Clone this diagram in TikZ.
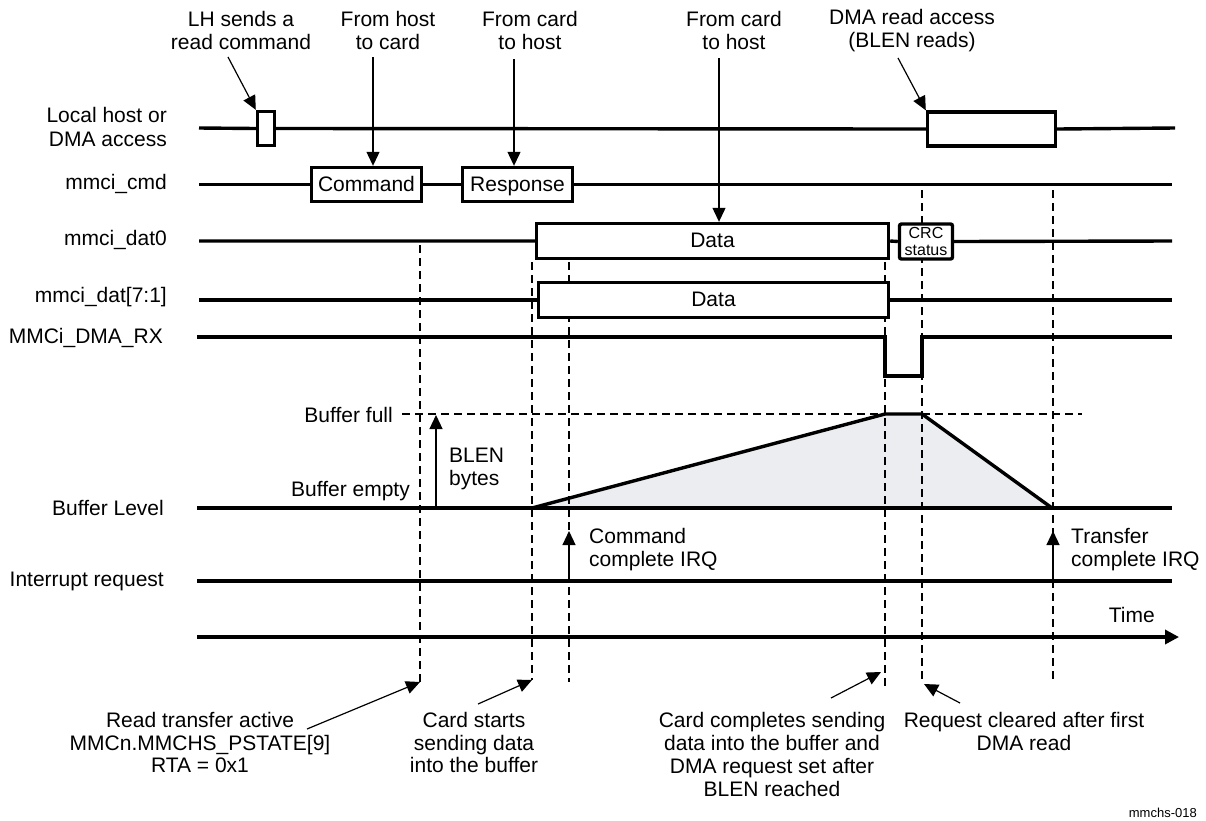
\documentclass[tikz,border=0pt]{standalone}
\usepackage{fontspec}
\setmainfont{Liberation Sans}
\usetikzlibrary{arrows.meta}
\definecolor{buf}{RGB}{236,237,240}
\begin{document}
\begin{tikzpicture}[x=1pt,y=-1pt,
  sig/.style={line width=3.4pt},
  sbox/.style={draw,line width=3.4pt,fill=white,inner sep=0pt,font=\fontsize{21}{23.5}\selectfont},
  tbox/.style={sbox,text height=15pt,text depth=1.5pt},
  lbl/.style={font=\fontsize{21}{23.5}\selectfont,align=center,inner sep=0pt},
  rlbl/.style={font=\fontsize{21}{23.5}\selectfont,align=right,inner sep=0pt,anchor=east},
  llbl/.style={font=\fontsize{21}{23}\selectfont,align=left,inner sep=0pt,anchor=west},
  ptr/.style={line width=1.2pt,-{Triangle[length=14pt,width=13pt]}},
  dsh/.style={line width=1.3pt,dash pattern=on 8pt off 5pt},
]
\useasboundingbox (0,0) rectangle (1206,820);

% buffer fill
\coordinate (b0) at (532,508);
\coordinate (b1) at (885,414);
\coordinate (b2) at (922,414);
\coordinate (b3) at (1052,508);
\fill[buf] (b0) -- (b1) -- (b2) -- (b3) -- cycle;

% dashed guide lines
\coordinate (d1t) at (420,245);  \coordinate (d1b) at (420,682);
\coordinate (d2t) at (532,262);  \coordinate (d2b) at (532,680);
\coordinate (d3t) at (569,262);  \coordinate (d3b) at (569,682);
\coordinate (d4t) at (885,262);  \coordinate (d4b) at (885,688);
\coordinate (d5t) at (922,190);  \coordinate (d5b) at (922,682);
\coordinate (d6t) at (1053,190); \coordinate (d6b) at (1053,683);
\coordinate (fl0) at (402,414);  \coordinate (fl1) at (1082,414);
\draw[dsh] (d1t) -- (d1b);
\draw[dsh] (d2t) -- (d2b);
\draw[dsh] (d3t) -- (d3b);
\draw[dsh] (d4t) -- (d4b);
\draw[dsh] (d5t) -- (d5b);
\draw[dsh] (d6t) -- (d6b);
\draw[dsh] (fl0) -- (fl1);

% boxes
\node[sbox,minimum width=17pt,minimum height=34pt] (lh) at (266,128.5) {};
\node[tbox,minimum width=110pt,minimum height=34pt] (cmdbox) at (366.5,184.5) {Command};
\node[tbox,minimum width=110pt,minimum height=34pt] (resp) at (517.5,184.5) {Response};
\node[sbox,minimum width=128pt,minimum height=34pt] (dmabox) at (991.5,129) {};
\node[tbox,minimum width=352pt,minimum height=35pt] (data0) at (712.5,241) {Data};
\node[sbox,rounded corners=2pt,minimum width=53pt,minimum height=35pt,font=\fontsize{16}{17.5}\selectfont,align=center] (crc) at (926,241.5) {CRC\\status};
\node[tbox,minimum width=350pt,minimum height=35pt] (data1) at (713.5,300) {Data};

% signal lines
\coordinate (a0) at (199,128); \coordinate (a1) at (1175,128);
\draw[sig] (a0) -- (lh.west) (lh.east) -- (dmabox.west) (dmabox.east) -- (a1);
\coordinate (c0) at (199,184.5); \coordinate (c1) at (1172,184.5);
\draw[sig] (c0) -- (cmdbox.west) (cmdbox.east) -- (resp.west) (resp.east) -- (c1);
\coordinate (e0) at (199,241); \coordinate (e1) at (1172,241);
\draw[sig] (e0) -- (data0.west) (data0.east) -- (crc.west) (crc.east) -- (e1);
\coordinate (f0) at (199,300); \coordinate (f1) at (1172,300);
\draw[sig] (f0) -- (data1.west) (data1.east) -- (f1);
\coordinate (g0) at (197,337); \coordinate (g1) at (1172,337);
\draw[sig] (g0) -- (885,337) -- (885,376) -- (922,376) -- (922,337) -- (g1);
\coordinate (h0) at (197,508); \coordinate (h1) at (1172,508);
\draw[sig] (h0) -- (h1);
\draw[sig,line join=miter] (b0) -- (b1) -- (b2) -- (b3);
\coordinate (i0) at (197,581); \coordinate (i1) at (1172,581);
\draw[sig] (i0) -- (i1);
\coordinate (t0) at (197,637); \coordinate (t1) at (1179,637);
\draw[sig,-{Triangle[length=14pt,width=14pt]}] (t0) -- (t1);

% left labels
\node[rlbl] (lab1) at (167,127) {Local host or\\DMA access};
\node[rlbl] (lab2) at (167,184) {mmci\_cmd};
\node[rlbl] (lab3) at (167,240) {mmci\_dat0};
\node[rlbl] (lab4) at (167,297) {mmci\_dat[7:1]};
\node[rlbl] (lab5) at (163,338) {MMCi\_DMA\_RX};
\node[rlbl] (lab6) at (164,508) {Buffer Level};
\node[rlbl] (lab7) at (164,581) {Interrupt request};

% top labels and pointers
\node[lbl] (lhtxt) at (241,30.5) {LH sends a\\read command};
\node[lbl] (fhtxt) at (388,30.5) {From host\\to card};
\node[lbl] (fc1txt) at (530,30.5) {From card\\to host};
\node[lbl] (fc2txt) at (734,30.5) {From card\\to host};
\node[lbl] (dmatxt) at (912,30.5) {DMA read access\\(BLEN reads)};
\coordinate (p1) at (228,57);
\coordinate (p2) at (373,57);
\coordinate (p3) at (514,59);
\coordinate (p4) at (719,58);
\coordinate (p5) at (898,58);
\draw[ptr] (p1) -- (lh.north west);
\draw[ptr] (p2) -- (p2 |- cmdbox.north);
\draw[ptr] (p3) -- (p3 |- resp.north);
\draw[ptr] (p4) -- (p4 |- data0.north);
\draw[ptr] (p5) -- (dmabox.north west);

% buffer labels
\node[rlbl] (bfull) at (393,415) {Buffer full};
\node[rlbl] (bempty) at (410,491) {Buffer empty};
\node[llbl] (blen) at (449,469) {BLEN\\bytes};
\coordinate (q1) at (436,508); \coordinate (q1t) at (436,415);
\draw[ptr] (q1) -- (q1t);

% interrupt labels
\node[llbl] (ccirq) at (589,549.5) {Command\\complete IRQ};
\node[llbl] (tcirq) at (1071,549.5) {Transfer\\complete IRQ};
\coordinate (q2) at (569,581); \coordinate (q2t) at (569,531);
\coordinate (q3) at (1053,581); \coordinate (q3t) at (1053,531);
\draw[ptr] (q2) -- (q2t);
\draw[ptr] (q3) -- (q3t);
\node[rlbl] (time) at (1155,615) {Time};

% bottom annotations
\node[lbl,font=\fontsize{21}{22.5}\selectfont] (rtxt) at (200,742.5) {Read transfer active\\MMCn.MMCHS\_PSTATE[9]\\RTA = 0x1};
\node[lbl,font=\fontsize{21}{22.5}\selectfont] (cstxt) at (474,742.5) {Card starts\\sending data\\into the buffer};
\node[lbl,font=\fontsize{21}{23}\selectfont] (cctxt) at (772,754) {Card completes sending\\data into the buffer and\\DMA request set after\\BLEN reached};
\node[lbl,font=\fontsize{21}{23}\selectfont] (rctxt) at (1024,731.5) {Request cleared after first\\DMA read};
\coordinate (r1) at (307,729);
\coordinate (r2) at (478,704);
\coordinate (r3) at (831,698);
\coordinate (r4) at (960,703);
\draw[ptr] (r1) -- (d1b);
\draw[ptr] (r2) -- (d2b);
\draw[ptr] (r3) -- (881,672);
\draw[ptr] (r4) -- (924,684);

\node[font=\fontsize{13}{15}\selectfont,inner sep=0pt,anchor=east] (fig) at (1197,813) {mmchs-018};
\end{tikzpicture}
\end{document}
